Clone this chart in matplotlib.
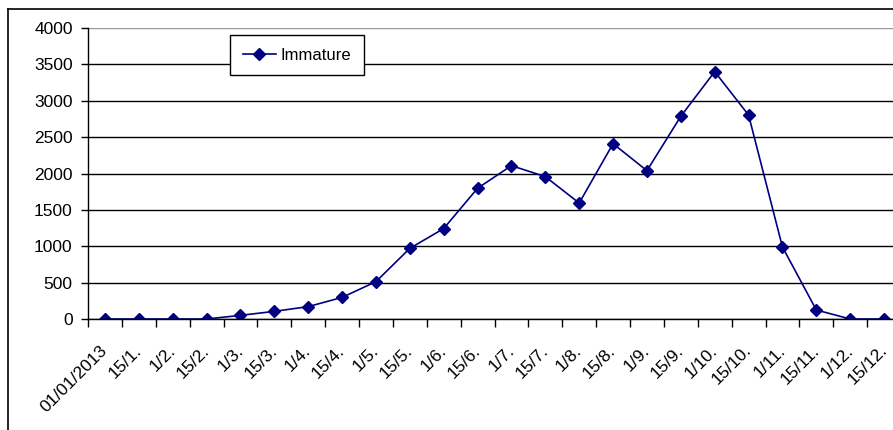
import numpy as np
import matplotlib.pyplot as plt
import matplotlib.transforms as mtransforms
from matplotlib.lines import Line2D

plt.rcParams['font.family'] = ['Liberation Sans', 'DejaVu Sans']

dates = ["01/01/2013", "15/1.", "1/2.", "15/2.", "1/3.", "15/3.", "1/4.", "15/4.",
         "1/5.", "15/5.", "1/6.", "15/6.", "1/7.", "15/7.", "1/8.", "15/8.",
         "1/9.", "15/9.", "1/10.", "15/10.", "1/11.", "15/11.", "1/12.", "15/12."]
immature = [0, 0, 0, 0, 50, 105, 170, 297, 513, 971, 1243, 1797,
            2108, 1957, 1594, 2410, 2039, 2786, 3400, 2804, 990, 124, 0, 0]
yticks = [0, 500, 1000, 1500, 2000, 2500, 3000, 3500, 4000]

W, H = 893, 430
fig = plt.figure(figsize=(W / 100, H / 100), dpi=100)
ax = fig.add_axes([88 / W, (H - 319) / H, (901 - 88) / W, 291 / H])

x = np.arange(len(dates))
ax.plot(x, immature, color="#000080", lw=1.2, marker="D", markersize=6.5,
        markeredgecolor="#000080", markerfacecolor="#000080", label="Immature")

ax.set_xlim(-0.5, len(dates) - 0.5)
ax.set_ylim(0, 4000)
ax.set_yticks(yticks)
ax.set_yticklabels([str(v) for v in yticks], fontsize=12.5)
ax.set_xticks(x)
ax.set_xticklabels(dates, fontsize=12.5, rotation=45, ha="right",
                   rotation_mode="anchor")
ax.set_xticks(np.arange(len(dates) + 1) - 0.5, minor=True)
ax.tick_params(axis="x", which="major", length=0, pad=17)
ax.tick_params(axis="x", which="minor", length=6, width=1, color="black")
ax.tick_params(axis="y", length=5, width=1, pad=6)

# nudge the slanted labels a little to the left
shift = mtransforms.ScaledTranslation(-5 / 100, 0, fig.dpi_scale_trans)
for lab in ax.get_xticklabels():
    lab.set_transform(lab.get_transform() + shift)

ax.yaxis.grid(True, color="black", lw=1)
ax.set_axisbelow(True)
for s in ["top", "right"]:
    ax.spines[s].set_visible(False)
ax.spines["left"].set_linewidth(1)
ax.spines["bottom"].set_linewidth(1)
fig.canvas.draw()
ax.get_ygridlines()[-1].set_color("#999999")

leg = ax.legend(loc="upper left", bbox_to_anchor=((230 - 88) / (901 - 88), 1 - 7 / 291),
                fontsize=12, frameon=True, fancybox=False, edgecolor="black",
                handlelength=2.0, handletextpad=0.3, borderpad=0.75, borderaxespad=0)
leg.get_frame().set_linewidth(1)
leg.get_frame().set_alpha(1)

# outer chart border
fig.add_artist(Line2D([8 / W, 8 / W], [0, 1 - 9 / H], color="black", lw=1.2,
                      transform=fig.transFigure))
fig.add_artist(Line2D([8 / W, 1], [1 - 9 / H, 1 - 9 / H], color="black", lw=1.2,
                      transform=fig.transFigure))

fig.savefig("out.png", dpi=100)
